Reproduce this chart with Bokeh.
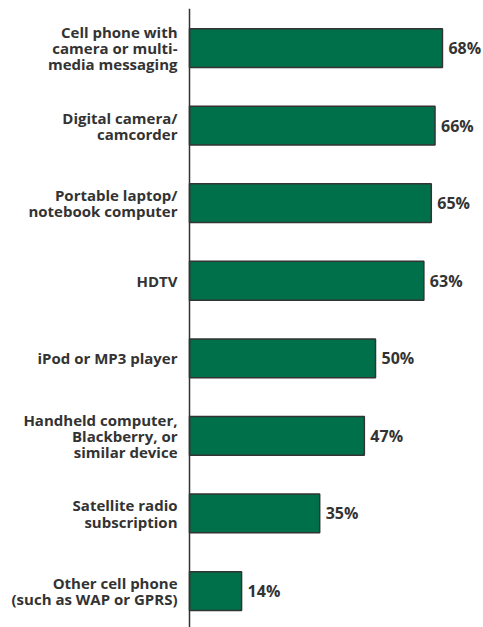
from bokeh.plotting import figure
from bokeh.models import Range1d, Span, ColumnDataSource
from bokeh.core.properties import value
from bokeh.embed import file_html
from bokeh.resources import INLINE

categories = [
    "Cell phone with\ncamera or multi-\nmedia messaging",
    "Digital camera/\ncamcorder",
    "Portable laptop/\nnotebook computer",
    "HDTV",
    "iPod or MP3 player",
    "Handheld computer,\nBlackberry, or\nsimilar device",
    "Satellite radio\nsubscription",
    "Other cell phone\n(such as WAP or GPRS)",
]
values = [68, 66, 65, 63, 50, 47, 35, 14]
value_labels = [f"{v}%" for v in values]

pos = list(range(len(categories)))
src = ColumnDataSource(dict(y=pos, v=values, cat=categories, lab=value_labels, zero=[0] * len(pos)))

px_per_unit = 3.72
p = figure(width=483, height=627, output_backend="svg", toolbar_location=None,
           x_range=Range1d(-189 / px_per_unit, 294 / px_per_unit), y_range=Range1d(7.47, -0.51),
           min_border_left=0, min_border_right=0, min_border_top=8, min_border_bottom=0)
p.axis.visible = False
p.grid.visible = False
p.outline_line_color = None
p.background_fill_color = "white"

p.hbar(y="y", left=0, right="v", height=0.5, source=src,
       fill_color="#00704A", line_color="#333333", line_width=1.5)

p.add_layout(Span(location=0, dimension="height", line_color="#333333", line_width=1.5))

font = "Open Sans"
p.text(x="zero", y="y", text="cat", source=src, x_offset=-12,
       text_align="right", text_baseline="middle",
       text_font=value(font), text_font_style="bold", text_font_size="15px",
       text_color="#333333", text_line_height=0.81)
p.text(x="v", y="y", text="lab", source=src, x_offset=6,
       text_align="left", text_baseline="middle",
       text_font=value(font), text_font_style="bold", text_font_size="16px",
       text_color="#333333")

open("out.html", "w").write(file_html(p, INLINE))
